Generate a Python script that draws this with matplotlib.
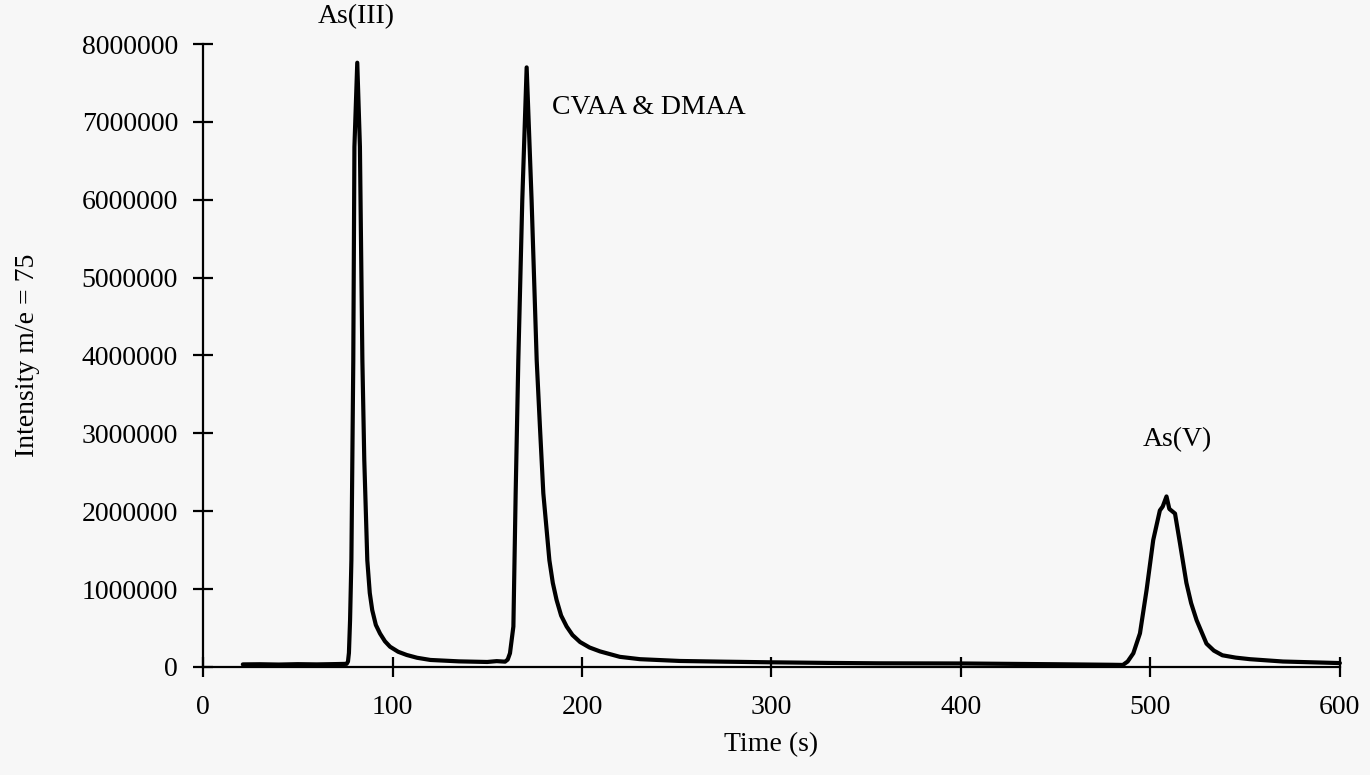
import matplotlib
matplotlib.use("Agg")
import matplotlib.pyplot as plt

# Chromatogram trace (time in s, intensity counts)
time_s = [21, 30, 40, 50, 60, 70, 75.8, 76.5, 77.0, 77.6, 78.3, 79.3, 79.9,
          81.4, 82.8, 84.1, 85.1, 86.7, 88.0, 89.3, 91.2, 93.4, 96.0, 98.7,
          103, 107.5, 113, 120, 135, 150, 155, 159.4, 160.8, 162.0, 163.8,
          165.0, 166.4, 168.5, 170.8, 173.4, 176.1, 177.8, 179.6, 182.8,
          184.6, 186.6, 189.0, 191.9, 195.0, 199, 204, 209.5, 220, 230.6,
          251.7, 275, 299, 330, 357, 400, 450, 480, 485.5, 488.0, 491, 494.5,
          498, 501.5, 505, 506.5, 508.5, 510, 513, 515.6, 519, 521.5, 524.4,
          529.6, 533.5, 538, 545, 552.5, 570, 600]
intensity = [33000, 35000, 31000, 36000, 33000, 37000, 40000, 70000, 180000,
             600000, 1370000, 3940000, 6680000, 7760000, 6680000, 3940000,
             2660000, 1370000, 950000, 730000, 540000, 430000, 330000, 260000,
             195000, 154000, 118000, 90000, 72000, 64000, 75000, 68000,
             95000, 176000, 520000, 2230000, 3940000, 6000000, 7700000,
             6000000, 3940000, 3090000, 2230000, 1370000, 1080000, 860000,
             660000, 520000, 410000, 320000, 250000, 200000, 130000, 100000,
             77000, 68000, 60000, 52000, 47000, 45000, 35000, 28000, 26000,
             70000, 176000, 432000, 990000, 1630000, 2010000, 2060000,
             2190000, 2030000, 1970000, 1590000, 1080000, 820000, 600000,
             300000, 210000, 150000, 120000, 100000, 70000, 50000]

peak_labels = ["As(III)", "CVAA & DMAA", "As(V)"]
label_x = [80.7, 184.2, 514.2]
label_y = [8350000, 7190000, 2915000]
label_ha = ["center", "left", "center"]

x_ticks = [0, 100, 200, 300, 400, 500, 600]
y_ticks = [0, 1000000, 2000000, 3000000, 4000000, 5000000, 6000000,
           7000000, 8000000]

bg = "#f7f7f7"
plt.rcParams["font.family"] = ["Liberation Serif", "DejaVu Serif"]

fig = plt.figure(figsize=(13.7, 7.75), dpi=100, facecolor=bg)
ax = fig.add_axes([0.1482, 0.1394, 0.8298, 0.8038])
ax.set_facecolor(bg)

ax.plot(time_s, intensity, color="black", lw=3.0, solid_joinstyle="round",
        solid_capstyle="round", clip_on=False)

for t, x, y, ha in zip(peak_labels, label_x, label_y, label_ha):
    ax.text(x, y, t, ha=ha, va="center", fontsize=20, color="black")

ax.set_xlim(0, 600)
ax.set_ylim(0, 8000000)
ax.set_xticks(x_ticks)
ax.set_yticks(y_ticks)
ax.set_xticklabels([str(v) for v in x_ticks])
ax.set_yticklabels([str(v) for v in y_ticks])

for s in ["top", "right"]:
    ax.spines[s].set_visible(False)
for s in ["left", "bottom"]:
    ax.spines[s].set_linewidth(1.6)
    ax.spines[s].set_color("black")

ax.tick_params(axis="both", direction="inout", length=14, width=1.6,
               labelsize=20, colors="black")
ax.tick_params(axis="x", pad=13)
ax.tick_params(axis="y", pad=11)

ax.set_xlabel("Time (s)", fontsize=20)
ax.set_ylabel("Intensity m/e = 75", fontsize=20)
ax.xaxis.set_label_coords(0.5, -0.105)
ax.yaxis.set_label_coords(-0.143, 0.5)

fig.savefig("out.png", dpi=100, facecolor=bg)
